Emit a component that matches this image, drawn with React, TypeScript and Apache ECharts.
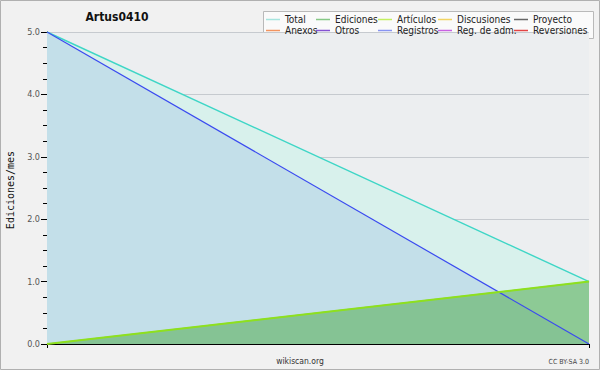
import React, { useEffect, useRef } from 'react';
import * as echarts from 'echarts';

const categories = ['2024-03', '2024-04'];
const totalValues = [5, 1];
const registrosValues = [5, 0];
const edicionesValues = [0, 1];
const articulosValues = [0, 1];
const yMin = 0;
const yMax = 5;
const yInterval = 1;

const legendColumns: string[][] = [
  ['Total', 'Anexos'],
  ['Ediciones', 'Otros'],
  ['Artículos', 'Registros'],
  ['Discusiones', 'Reg. de adm.'],
  ['Proyecto', 'Reversiones'],
];
const legendLefts = [266, 316, 378, 438, 514];
const legendColors: Record<string, string> = {
  Total: '#a6e4de',
  Ediciones: '#86c886',
  'Artículos': '#c4f060',
  Discusiones: '#f2d462',
  Proyecto: '#666666',
  Anexos: '#f29460',
  Otros: '#8452d2',
  Registros: '#8894f2',
  'Reg. de adm.': '#c862e2',
  Reversiones: '#e24444',
};

const FONT = '"DejaVu Sans Condensed", "Liberation Sans Narrow", "DejaVu Sans", sans-serif';

export default function App() {
  const ref = useRef<HTMLDivElement>(null);
  useEffect(() => {
    if (!ref.current) return;
    const chart = echarts.init(ref.current, null, { renderer: 'svg' });
    const allNames = legendColumns.flat();
    const dataSeries: any[] = [
      {
        name: 'Total', type: 'line', data: totalValues, symbol: 'none', z: 2,
        lineStyle: { color: '#3ed6c6', width: 1.4 },
        itemStyle: { color: '#3ed6c6' },
        areaStyle: { color: '#d8f1ec', opacity: 1 },
      },
      {
        name: 'Registros', type: 'line', data: registrosValues, symbol: 'none', z: 2.2,
        lineStyle: { width: 0, opacity: 0 },
        itemStyle: { color: '#3a4af0' },
        areaStyle: { color: '#c3dfe9', opacity: 1 },
      },
      {
        name: 'Ediciones', type: 'line', data: edicionesValues, symbol: 'none', z: 2.5,
        lineStyle: { color: '#6cc46c', width: 1 },
        itemStyle: { color: '#6cc46c' },
        areaStyle: { color: 'rgba(96,178,96,0.62)', opacity: 1 },
      },
      {
        name: 'Registros', type: 'line', data: registrosValues, symbol: 'none', z: 3,
        lineStyle: { color: '#3a4af0', width: 1.2 },
        itemStyle: { color: '#3a4af0' },
      },
      {
        name: 'Artículos', type: 'line', data: articulosValues, symbol: 'none', z: 4,
        lineStyle: { color: '#8ee01e', width: 2 },
        itemStyle: { color: '#8ee01e' },
      },
    ];
    const used = dataSeries.map((s) => s.name);
    const emptySeries = allNames
      .filter((n) => !used.includes(n))
      .map((n) => ({ name: n, type: 'line', data: [], symbol: 'none', itemStyle: { color: legendColors[n] } }));

    chart.setOption({
      animation: false,
      backgroundColor: '#f1f1f1',
      grid: {
        left: 47, right: 11, top: 32, bottom: 26,
        show: true, backgroundColor: '#eceef0', borderWidth: 0,
      },
      xAxis: {
        type: 'category',
        data: categories,
        boundaryGap: false,
        axisLine: { lineStyle: { color: '#000', width: 1 } },
        axisTick: { show: true, length: 4, lineStyle: { color: '#000' } },
        axisLabel: { show: false },
        splitLine: { show: false },
      },
      yAxis: {
        type: 'value',
        min: yMin, max: yMax, interval: yInterval,
        axisLine: { show: true, lineStyle: { color: '#000', width: 1 } },
        axisTick: { show: true, length: 6, lineStyle: { color: '#000' } },
        minorTick: { show: true, splitNumber: 4, length: 4, lineStyle: { color: '#000' } },
        axisLabel: {
          formatter: (v: number) => v.toFixed(1),
          color: '#555', fontSize: 9, fontFamily: FONT, margin: 7,
        },
        splitLine: { show: true, lineStyle: { color: '#c6cacf', width: 1 } },
      },
      legend: legendColumns.map((col, i) => ({
        orient: 'vertical',
        left: legendLefts[i],
        top: 14,
        itemWidth: 14,
        itemHeight: 1.5,
        itemGap: 0,
        icon: 'rect',
        selectedMode: false,
        padding: 0,
        textStyle: { fontSize: 10, fontFamily: FONT, color: '#222', lineHeight: 11 },
        data: col.map((n) => ({ name: n, icon: 'rect', itemStyle: { color: legendColors[n] } })),
      })),
      graphic: [
        {
          type: 'rect', z: -1, silent: true,
          shape: { x: 263.5, y: 11.5, width: 330, height: 27 },
          style: { fill: '#fafafa', stroke: '#b9b9b9', lineWidth: 1 },
        },
        {
          type: 'rect', silent: true,
          shape: { x: 0.5, y: 0.5, width: 599, height: 369 },
          style: { fill: 'none', stroke: '#b0b0b0', lineWidth: 1 },
        },
        {
          type: 'text', x: 117, y: 17,
          style: {
            text: 'Artus0410', fill: '#111', font: `bold 12px ${FONT}`,
            textAlign: 'center', textVerticalAlign: 'middle',
          },
        },
        {
          type: 'text', x: 10, y: 190, rotation: Math.PI / 2,
          style: {
            text: 'Ediciones/mes', fill: '#111', font: '10px "DejaVu Sans Mono", monospace',
            textAlign: 'center', textVerticalAlign: 'middle',
          },
        },
        {
          type: 'text', x: 300, y: 361,
          style: {
            text: 'wikiscan.org', fill: '#333', font: `8.5px ${FONT}`,
            textAlign: 'center', textVerticalAlign: 'middle',
          },
        },
        {
          type: 'text', x: 589, y: 362,
          style: {
            text: 'CC BY-SA 3.0', fill: '#444', font: `7px ${FONT}`,
            textAlign: 'right', textVerticalAlign: 'middle',
          },
        },
      ],
      series: [...dataSeries, ...emptySeries],
    });
    return () => chart.dispose();
  }, []);
  return (
    <div style={{ position: 'absolute', left: 0, top: 0, width: 600, height: 370 }}>
      <div ref={ref} style={{ width: 600, height: 370 }} />
    </div>
  );
}
